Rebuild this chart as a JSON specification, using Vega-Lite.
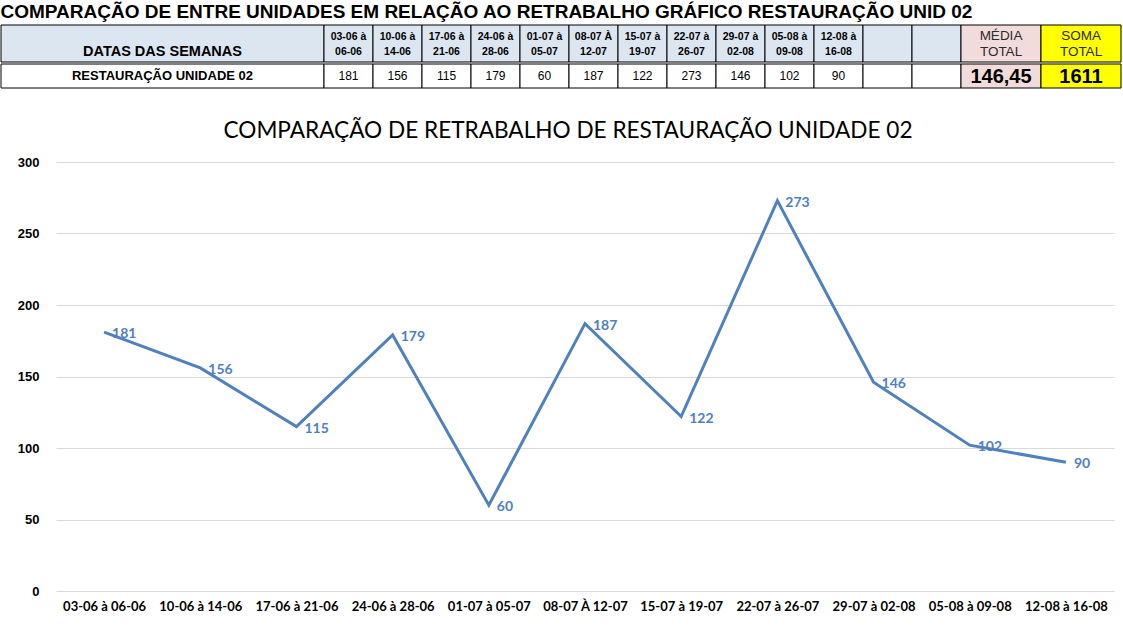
{
  "$schema": "https://vega.github.io/schema/vega-lite/v6.json",
  "padding": {"left": 0, "top": 2, "right": 0, "bottom": 0},
  "background": "white",
  "title": {"text": "COMPARAÇÃO DE ENTRE UNIDADES EM RELAÇÃO AO RETRABALHO GRÁFICO RESTAURAÇÃO UNID 02", "anchor": "start", "frame": "bounds", "font": "Liberation Sans", "fontSize": 19, "fontWeight": "bold", "color": "#000000", "offset": 3},
  "config": {"view": {"stroke": null}},
  "datasets": {
    "semanas": [
      {"semana": "03-06 à 06-06", "cabecalho": "03-06 à\n06-06", "valor": 181},
      {"semana": "10-06 à 14-06", "cabecalho": "10-06 à\n14-06", "valor": 156},
      {"semana": "17-06 à 21-06", "cabecalho": "17-06 à\n21-06", "valor": 115},
      {"semana": "24-06 à 28-06", "cabecalho": "24-06 à\n28-06", "valor": 179},
      {"semana": "01-07 à 05-07", "cabecalho": "01-07 à\n05-07", "valor": 60},
      {"semana": "08-07 À 12-07", "cabecalho": "08-07 À\n12-07", "valor": 187},
      {"semana": "15-07 à 19-07", "cabecalho": "15-07 à\n19-07", "valor": 122},
      {"semana": "22-07 à 26-07", "cabecalho": "22-07 à\n26-07", "valor": 273},
      {"semana": "29-07 à 02-08", "cabecalho": "29-07 à\n02-08", "valor": 146},
      {"semana": "05-08 à 09-08", "cabecalho": "05-08 à\n09-08", "valor": 102},
      {"semana": "12-08 à 16-08", "cabecalho": "12-08 à\n16-08", "valor": 90}
    ],
    "totais": [
      {"coluna": "MÉDIA", "cab": "MÉDIA\nTOTAL", "total": "146,45"},
      {"coluna": "SOMA", "cab": "SOMA\nTOTAL", "total": "1611"}
    ],
    "vazios": [{"semana": "vazio1"}, {"semana": "vazio2"}]
  },
  "spacing": 31,
  "resolve": {"scale": {"fill": "independent", "color": "independent"}},
  "vconcat": [
    {
      "spacing": 0,
      "resolve": {"scale": {"fill": "independent", "color": "independent"}},
      "vconcat": [
        {
          "spacing": 0,
          "bounds": "flush",
          "resolve": {"scale": {"fill": "independent", "color": "independent"}},
          "hconcat": [
            {
              "width": 323, "height": 37,
              "data": {"values": [{"texto": "DATAS DAS SEMANAS"}]},
              "encoding": {"x": {"field": "texto", "type": "nominal", "axis": null}},
              "layer": [
                {"mark": {"type": "rect", "stroke": "#000000", "strokeWidth": 1, "fill": "#DCE6F1"}},
                {"mark": {"type": "text", "font": "Liberation Sans", "fontWeight": "bold", "fontSize": 14.5, "dy": 8, "color": "#000000"}, "encoding": {"text": {"field": "texto"}}}
              ]
            },
            {
              "width": 637, "height": 37,
              "encoding": {
                "x": {"field": "semana", "type": "nominal", "sort": null, "axis": null,
                      "scale": {"domain": ["03-06 à 06-06", "10-06 à 14-06", "17-06 à 21-06", "24-06 à 28-06", "01-07 à 05-07", "08-07 À 12-07", "15-07 à 19-07", "22-07 à 26-07", "29-07 à 02-08", "05-08 à 09-08", "12-08 à 16-08", "vazio1", "vazio2"]}}
              },
              "layer": [
                {"data": {"name": "semanas"}, "mark": {"type": "rect", "stroke": "#000000", "strokeWidth": 1, "fill": "#DCE6F1"}},
                {"data": {"name": "vazios"}, "mark": {"type": "rect", "stroke": "#000000", "strokeWidth": 1, "fill": "#DCE6F1"}},
                {"data": {"name": "semanas"}, "mark": {"type": "text", "font": "Liberation Sans", "fontWeight": "bold", "fontSize": 10.5, "lineBreak": "\n", "lineHeight": 15, "dy": -7, "color": "#000000"},
                 "encoding": {"text": {"field": "cabecalho"}}}
              ]
            },
            {
              "width": 160, "height": 37,
              "data": {"name": "totais"},
              "encoding": {
                "x": {"field": "coluna", "type": "nominal", "sort": null, "axis": null},
                "fill": {"field": "coluna", "type": "nominal", "scale": {"domain": ["MÉDIA", "SOMA"], "range": ["#F2DCDB", "#FFFF00"]}, "legend": null}
              },
              "layer": [
                {"mark": {"type": "rect", "stroke": "#000000", "strokeWidth": 1}},
                {"mark": {"type": "text", "font": "Liberation Sans", "fontSize": 13.5, "lineBreak": "\n", "lineHeight": 16, "dy": -8},
                 "encoding": {"text": {"field": "cab"}, "fill": {"value": "#2B2B2B"}}}
              ]
            }
          ]
        },
        {
          "spacing": 0,
          "bounds": "flush",
          "resolve": {"scale": {"fill": "independent", "color": "independent"}},
          "hconcat": [
            {
              "width": 323, "height": 24,
              "data": {"values": [{"texto": "RESTAURAÇÃO UNIDADE 02"}]},
              "encoding": {"x": {"field": "texto", "type": "nominal", "axis": null}},
              "layer": [
                {"mark": {"type": "rect", "stroke": "#000000", "strokeWidth": 1, "fill": "#FFFFFF"}},
                {"mark": {"type": "text", "font": "Liberation Sans", "fontWeight": "bold", "fontSize": 13, "color": "#000000"}, "encoding": {"text": {"field": "texto"}}}
              ]
            },
            {
              "width": 637, "height": 24,
              "encoding": {
                "x": {"field": "semana", "type": "nominal", "sort": null, "axis": null,
                      "scale": {"domain": ["03-06 à 06-06", "10-06 à 14-06", "17-06 à 21-06", "24-06 à 28-06", "01-07 à 05-07", "08-07 À 12-07", "15-07 à 19-07", "22-07 à 26-07", "29-07 à 02-08", "05-08 à 09-08", "12-08 à 16-08", "vazio1", "vazio2"]}}
              },
              "layer": [
                {"data": {"name": "semanas"}, "mark": {"type": "rect", "stroke": "#000000", "strokeWidth": 1, "fill": "#FFFFFF"}},
                {"data": {"name": "vazios"}, "mark": {"type": "rect", "stroke": "#000000", "strokeWidth": 1, "fill": "#FFFFFF"}},
                {"data": {"name": "semanas"}, "mark": {"type": "text", "font": "Liberation Sans", "fontSize": 12, "color": "#000000"},
                 "encoding": {"text": {"field": "valor", "type": "quantitative"}}}
              ]
            },
            {
              "width": 160, "height": 24,
              "data": {"name": "totais"},
              "encoding": {
                "x": {"field": "coluna", "type": "nominal", "sort": null, "axis": null},
                "fill": {"field": "coluna", "type": "nominal", "scale": {"domain": ["MÉDIA", "SOMA"], "range": ["#F2DCDB", "#FFFF00"]}, "legend": null}
              },
              "layer": [
                {"mark": {"type": "rect", "stroke": "#000000", "strokeWidth": 1}},
                {"mark": {"type": "text", "font": "Liberation Sans", "fontSize": 20, "fontWeight": "bold", "dy": 1},
                 "encoding": {"text": {"field": "total"}, "fill": {"value": "#000000"}}}
              ]
            }
          ]
        }
      ]
    },
    {
      "spacing": 0,
      "hconcat": [
        {
          "width": 1, "height": 10,
          "data": {"values": [{"vazio": ""}]},
          "mark": {"type": "text", "opacity": 0},
          "encoding": {"text": {"field": "vazio"}}
        },
        {
          "width": 1058, "height": 429,
          "title": {"text": "COMPARAÇÃO DE RETRABALHO DE RESTAURAÇÃO UNIDADE 02", "frame": "bounds", "dx": 10, "font": "Lato", "fontSize": 22.6, "fontWeight": "normal", "color": "#000000", "offset": 13},
          "data": {"name": "semanas"},
          "encoding": {
            "x": {"field": "semana", "type": "nominal", "sort": null,
                  "axis": {"title": null, "labelAngle": 0, "labelFont": "Lato", "labelFontWeight": "bold", "labelFontSize": 13, "labelColor": "#000000", "domain": false, "ticks": false, "labelPadding": 9, "labelOverlap": false, "labelLimit": 200}},
            "y": {"field": "valor", "type": "quantitative", "scale": {"domain": [0, 300]},
                  "axis": {"title": null, "values": [0, 50, 100, 150, 200, 250, 300], "labelFont": "Liberation Sans", "labelFontWeight": "bold", "labelFontSize": 13, "labelColor": "#000000", "domain": false, "ticks": false, "gridColor": "#D9D9D9", "labelPadding": 17, "minExtent": 54, "maxExtent": 54}}
          },
          "layer": [
            {"mark": {"type": "line", "color": "#4F81BD", "strokeWidth": 3}},
            {"mark": {"type": "text", "align": "left", "baseline": "middle", "dx": 8, "dy": 2, "font": "Lato", "fontWeight": "bold", "fontSize": 14, "color": "#4F81BD"},
             "encoding": {"text": {"field": "valor", "type": "quantitative"}}}
          ]
        }
      ]
    }
  ]
}
